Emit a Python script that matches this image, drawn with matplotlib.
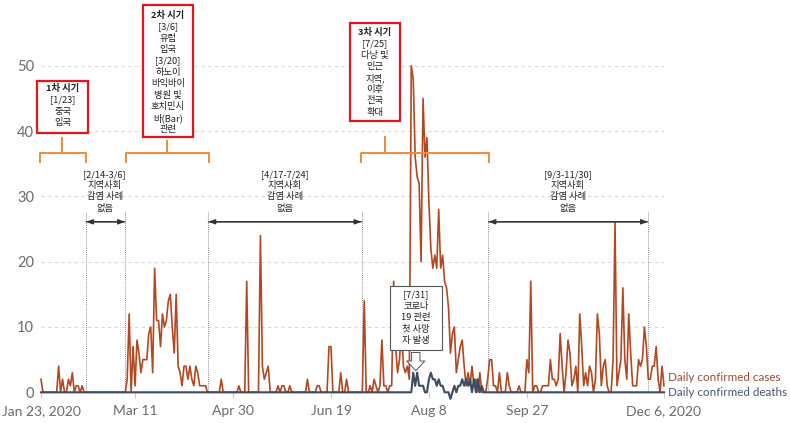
import matplotlib.pyplot as plt
import numpy as np
import pandas as pd

start = pd.Timestamp('2020-01-23')

# daily confirmed cases, Jan 23 .. Dec 6 2020
cases = ([2, 0, 0, 0, 0, 0, 0, 0, 0, 4, 0, 2, 0, 0, 2, 1, 3, 0, 1, 1, 0, 1, 0]
         + [0] * 21
         + [2, 12, 0, 7, 1, 8, 6, 3, 5, 5, 5, 9, 10, 3, 19, 11, 11, 7, 12, 10,
            11, 14, 15, 10, 6, 15, 4, 3, 1, 4, 4, 2, 4, 2, 1, 4, 3, 1, 1, 1, 1, 0]
         + [0, 0, 0, 0, 0, 0, 2, 0, 0, 0, 0, 0, 0, 0, 0, 1, 0, 0, 0, 17,
            0, 0, 0, 0, 0, 0, 24, 4, 2, 3, 4, 0, 0, 0, 0, 1, 0, 1, 1, 0,
            0, 1, 0, 0, 0, 0, 0, 0, 0, 0, 2, 0, 0, 0, 0, 1, 1, 0, 0, 0,
            0, 7, 7, 0, 0, 0, 0, 3, 0, 0, 2, 0, 0, 0, 0, 0, 0, 0, 0]
         + [14, 0, 0, 1, 0, 2, 1, 0, 1, 8, 1, 1, 0, 1, 1, 17, 7, 3, 5, 10, 4, 3, 4, 2]
         + [50, 48, 36, 33, 32, 20, 45, 36, 39, 29, 22, 19, 21, 19, 28, 19, 21, 17, 16, 13,
            6, 9, 10, 3, 5, 7, 8, 4, 1, 3, 1, 4, 1, 2, 0, 3, 0, 0, 0, 2]
         + [5, 5, 1, 1, 0, 3, 0, 0, 0, 3, 1, 0, 0, 0, 0, 1, 0, 0, 0, 5,
            3, 17, 0, 1, 1, 0, 0, 1, 1, 1, 1, 5, 2, 2, 1, 2, 9, 4, 0, 3,
            8, 6, 1, 2, 4, 0, 12, 7, 1, 3, 1, 4, 3, 0, 2, 12, 9, 1, 4, 5,
            1, 0, 0, 5, 26, 1, 3, 5, 16, 5, 2, 12, 6, 1, 1, 1, 5, 4, 5, 10,
            7, 2, 2, 4, 4, 7, 2, 0, 4, 1])

# daily confirmed deaths
deaths = ([0] * 190
          + [3, 1, 3, 1, 1, 1, 0, 0, 2, 3, 2, 2, 1, 2, 1, 1, 0, 0, 0, -1,
             0, 1, 0, 1, 1, 2, 1, 2, 1, 2, 0, 2, 0, 2, 0, 1, 0]
          + [0] * 92)

tick_dates = ['2020-01-23', '2020-03-11', '2020-04-30', '2020-06-19',
              '2020-08-08', '2020-09-27', '2020-12-06']
tick_labels = ['Jan 23, 2020', 'Mar 11', 'Apr 30', 'Jun 19', 'Aug 8', 'Sep 27', 'Dec 6, 2020']

c_cases = '#b4471f'
c_deaths = '#3d4b63'
c_orange = '#f08a3e'
kr = ['Noto Sans CJK KR', 'DejaVu Sans']

plt.rcParams['font.family'] = ['Lato', 'DejaVu Sans']

x = np.arange(len(cases))
ticks = [(pd.Timestamp(d) - start).days for d in tick_dates]

fig = plt.figure(figsize=(7.9, 4.23), dpi=100)
ax = fig.add_axes([41 / 790, 30.7 / 423, 623 / 790, 326.6 / 423])

ax.plot(x, cases, color=c_cases, lw=1.2, clip_on=False, zorder=3)
ax.plot(x, deaths, color=c_deaths, lw=1.5, clip_on=False, zorder=4)

ax.set_xlim(0, len(cases) - 1)
ax.set_ylim(0, 50)
ax.set_yticks([0, 10, 20, 30, 40, 50])
ax.set_xticks(ticks)
ax.set_xticklabels(tick_labels)
ax.yaxis.grid(True, ls=(0, (3, 3)), color='#d9d9d9', lw=0.8)
ax.set_axisbelow(True)
for s in ax.spines.values():
    s.set_visible(False)
ax.tick_params(axis='y', length=0, pad=5, labelsize=10.5, labelcolor='#6b6b6b')
ax.tick_params(axis='x', length=4, color='#cccccc', pad=5, labelsize=10, labelcolor='#6b6b6b')

ax.text(320, 2.2, 'Daily confirmed cases', color='#a34a34', fontsize=8.4, va='center', clip_on=False)
ax.text(320, -0.1, 'Daily confirmed deaths', color='#4a566e', fontsize=8.4, va='center', clip_on=False)


def box_lines(cx, top, lines, x0, x1, y0, y1, edge, lw):
    ax.add_patch(plt.Rectangle((x0, y0), x1 - x0, y1 - y0, fc='white', ec=edge, lw=lw,
                               clip_on=False, zorder=6))
    for i, t in enumerate(lines):
        ax.text(cx, top - i * 1.745, t, ha='center', va='center', fontsize=6.7, family=kr,
                color='#222222', fontweight='bold' if (i == 0 and '시기' in t) else 'normal',
                clip_on=False, zorder=7)


box_lines(11, 46.5, ['1차 시기', '[1/23]', '중국', '입국'], -2.0, 23.9, 39.7, 47.7, '#e8141b', 1.6)
box_lines(64.8, 57.7, ['2차 시기', '[3/6]', '유럽', '입국', '[3/20]', '하노이', '바익바이',
                       '병원 및', '호치민시', '바(Bar)', '관련'], 52.0, 77.6, 39.05, 59.3, '#e8141b', 1.6)
box_lines(170.4, 55.1, ['3차 시기', '[7/25]', '다낭 및', '인근', '지역,', '이후', '전국', '확대'],
          157.7, 183.2, 41.5, 56.5, '#e8141b', 1.6)
box_lines(191.3, 14.9, ['[7/31]', '코로나', '19 관련', '첫 사망', '자 발생'],
          178.1, 204.6, 6.5, 16.3, '#555555', 0.8)

# hollow arrow under the death note
ax.annotate('', xy=(191.3, 3.3), xytext=(191.3, 6.1),
            arrowprops=dict(arrowstyle='simple,head_length=0.7,head_width=1.3,tail_width=0.6',
                            fc='white', ec='#555555', lw=0.7, shrinkA=0, shrinkB=0), zorder=7)

# orange brackets
for x0, x1, xm, ytop in [(-0.5, 23.0, 10.9, 38.9), (43.4, 85.9, 64.1, 38.4), (163.1, 228.6, 175.5, 39.1)]:
    ax.plot([x0, x0, x1, x1], [35.3, 36.6, 36.6, 35.3], color=c_orange, lw=1.4,
            clip_on=False, zorder=5, solid_joinstyle='round')
    ax.plot([xm, xm], [36.6, ytop], color=c_orange, lw=1.4, clip_on=False, zorder=5)

# periods without community transmission
for x0, x1, cx, lab in [(23.0, 42.9, 32.5, '[2/14-3/6]'), (85.4, 163.6, 124.5, '[4/17-7/24]'),
                        (228.4, 309.8, 269.0, '[9/3-11/30]')]:
    for xv in (x0, x1):
        ax.plot([xv, xv], [0, 27.8], color='#666666', lw=0.6, ls=(0, (1, 1.5)), zorder=2)
    ax.annotate('', xy=(x1, 26.1), xytext=(x0, 26.1),
                arrowprops=dict(arrowstyle='-|>,head_length=0.4,head_width=0.15', color='#333333',
                                lw=0.9, shrinkA=0, shrinkB=0))
    ax.annotate('', xy=(x0, 26.1), xytext=(x1, 26.1),
                arrowprops=dict(arrowstyle='-|>,head_length=0.4,head_width=0.15', color='#333333',
                                lw=0.9, shrinkA=0, shrinkB=0))
    for i, t in enumerate([lab, '지역사회', '감염 사례', '없음']):
        ax.text(cx, 33.4 - i * 1.745, t, ha='center', va='center', fontsize=6.7, family=kr,
                color='#222222', zorder=7)

fig.savefig('out.png', dpi=100)
